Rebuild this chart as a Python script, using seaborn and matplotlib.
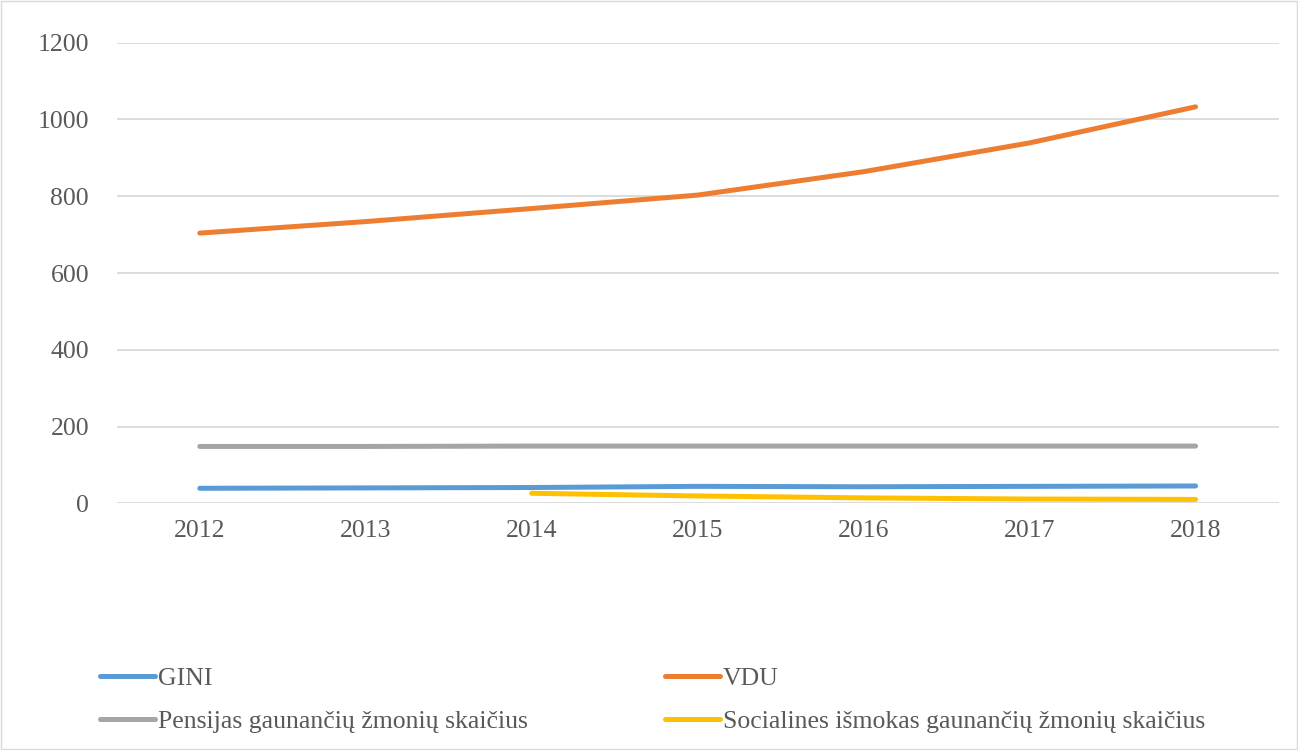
import pandas as pd
import numpy as np
import seaborn as sns
import matplotlib.pyplot as plt

YEARS = ["2012", "2013", "2014", "2015", "2016", "2017", "2018"]
GINI = [39, 40, 41, 44, 43, 44, 45]
VDU = [704, 734, 768, 803, 864, 939, 1033]
PENSIJOS = [148, 148, 149, 149, 149, 149, 149]
SOCIALINES = [np.nan, np.nan, 26, 19, 14, 11, 10]

SERIES = {
    "GINI": GINI,
    "VDU": VDU,
    "Pensijas gaunančių žmonių skaičius": PENSIJOS,
    "Socialines išmokas gaunančių žmonių skaičius": SOCIALINES,
}
COLORS = ["#5B9BD5", "#ED7D31", "#A5A5A5", "#FFC000"]


def build_frame():
    rows = []
    for name, vals in SERIES.items():
        for i, v in enumerate(vals):
            rows.append({"x": i, "value": v, "series": name})
    return pd.DataFrame(rows).dropna()


def main():
    sns.set_theme(style="white")
    plt.rcParams["font.family"] = ["Liberation Serif", "DejaVu Serif"]

    df = build_frame()
    fig = plt.figure(figsize=(12.98, 7.5), dpi=100)
    ax = fig.add_axes([0.090, 0.329, 0.895, 0.614])

    sns.lineplot(
        data=df, x="x", y="value", hue="series",
        hue_order=list(SERIES.keys()), palette=COLORS,
        linewidth=3.6, ax=ax, legend=False, sort=True,
    )
    for line in ax.lines:
        line.set_solid_capstyle("round")

    ax.set_xlim(-0.5, len(YEARS) - 0.5)
    ax.set_ylim(0, 1200)
    ax.set_xticks(range(len(YEARS)))
    ax.set_xticklabels(YEARS)
    ax.set_yticks(range(0, 1201, 200))
    ax.tick_params(axis="both", labelsize=18.5, labelcolor="#595959", length=0)
    ax.tick_params(axis="x", pad=12)
    ax.tick_params(axis="y", pad=20)
    ax.set_xlabel("")
    ax.set_ylabel("")
    ax.yaxis.grid(True, color="#d9d9d9", linewidth=1.3)
    ax.set_axisbelow(True)
    for s in ax.spines.values():
        s.set_visible(False)

    names = list(SERIES.keys())
    order = [0, 2, 1, 3]  # column-major fill -> rows: GINI/VDU, Pensijas/Socialines
    handles = [plt.Line2D([], [], color=COLORS[i], linewidth=3.6, solid_capstyle="round") for i in order]
    fig.legend(
        handles, [names[i] for i in order], loc="upper left", bbox_to_anchor=(0.069, 0.124),
        ncol=2, frameon=False, fontsize=18.5, labelcolor="#595959",
        handlelength=2.15, handletextpad=0.1, columnspacing=5.35, borderaxespad=0,
        labelspacing=0.75,
    )

    fig.patches.append(plt.Rectangle((0.001, 0.001), 0.998, 0.998, transform=fig.transFigure,
                                     fill=False, edgecolor="#d9d9d9", linewidth=1))
    fig.savefig("out.png", dpi=100)
    plt.close(fig)


if __name__ == "__main__":
    main()
